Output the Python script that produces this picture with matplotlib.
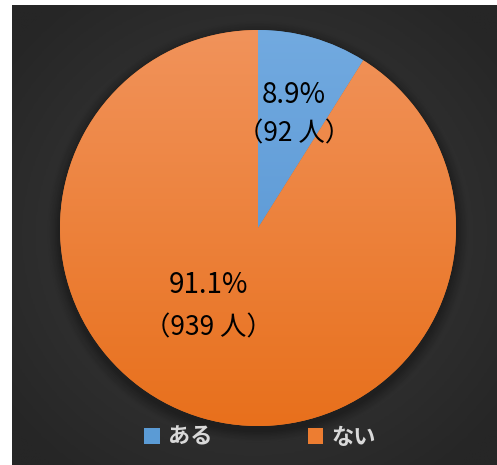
import numpy as np
import matplotlib
matplotlib.use("Agg")
import matplotlib.pyplot as plt
from matplotlib.colors import LinearSegmentedColormap
from matplotlib.patches import Circle, Patch

plt.rcParams["font.family"] = ["Noto Sans CJK JP", "DejaVu Sans"]

# -----------------------------------
# Data
# -----------------------------------
categories = ["ある", "ない"]
counts = [92, 939]
percents = [8.9, 91.1]

# top / bottom shades for each slice
slice_top = ["#72aae0", "#f1935b"]
slice_bottom = ["#4f8fcf", "#e8701c"]
legend_colors = ["#5b9bd5", "#ed7d31"]

W, H = 497, 465
fig = plt.figure(figsize=(W / 100, H / 100), dpi=100, facecolor="white")
ax = fig.add_axes([0, 0, 1, 1])

cx, cy, r = 258, H - 228, 198

# -----------------------------------
# Dark radial background
# -----------------------------------
bx0, bx1, by0, by1 = 12, W, 0, H - 6
gx, gy = np.meshgrid(np.linspace(-1, 1, 300), np.linspace(-1, 1, 300))
dist = np.clip(np.sqrt(gx ** 2 + gy ** 2) / 1.3, 0, 1)
bg_cmap = LinearSegmentedColormap.from_list("bg", ["#3d3d3d", "#262626"])
ax.imshow(dist, cmap=bg_cmap, extent=[bx0, bx1, by0, by1],
          origin="lower", zorder=0, aspect="auto")

# soft shadow under the pie
for i, a in enumerate(np.linspace(0.05, 0.02, 8)):
    ax.add_patch(Circle((cx, cy - 4), r + 2 + i * 1.5, color="black",
                        alpha=a, lw=0, zorder=1))

# -----------------------------------
# Pie with vertical gradient fill
# -----------------------------------
wedges, _ = ax.pie(counts, startangle=90, counterclock=False,
                   center=(cx, cy), radius=r, colors=legend_colors,
                   wedgeprops=dict(linewidth=0), frame=True)

grad = np.linspace(0, 1, 256).reshape(-1, 1)
for w, top, bottom in zip(wedges, slice_top, slice_bottom):
    w.set_zorder(2)
    cmap = LinearSegmentedColormap.from_list("g", [bottom, top])
    im = ax.imshow(grad, cmap=cmap, origin="lower",
                   extent=[cx - r, cx + r, cy - r, cy + r],
                   zorder=3, aspect="auto")
    im.set_clip_path(w)

# -----------------------------------
# Slice labels
# -----------------------------------
label_pos = [(294, 95, 134), (208, 285, 328)]
for pct, n, (lx, ly1, ly2) in zip(percents, counts, label_pos):
    ax.text(lx, H - ly1, f"{pct:.1f}%", fontsize=20, ha="center",
            va="center", color="black", zorder=5)
    ax.text(lx, H - ly2, f"（{n} 人）", fontsize=19, ha="center",
            va="center", color="black", zorder=5)

ax.set_xlim(0, W)
ax.set_ylim(0, H)
ax.set_aspect("equal")
ax.axis("off")

# -----------------------------------
# Legend
# -----------------------------------
handles = [Patch(facecolor=c, edgecolor="none") for c in legend_colors]
leg = ax.legend(handles, categories, loc="center", ncol=2,
                bbox_to_anchor=(260 / W, 1 - 437 / H),
                frameon=False, handlelength=0.7, handleheight=0.7,
                handletextpad=0.35, columnspacing=4.3,
                prop=dict(size=16, weight="bold"))
for t in leg.get_texts():
    t.set_color("#d9d9d9")

fig.savefig("out.png", dpi=100, facecolor="white")
